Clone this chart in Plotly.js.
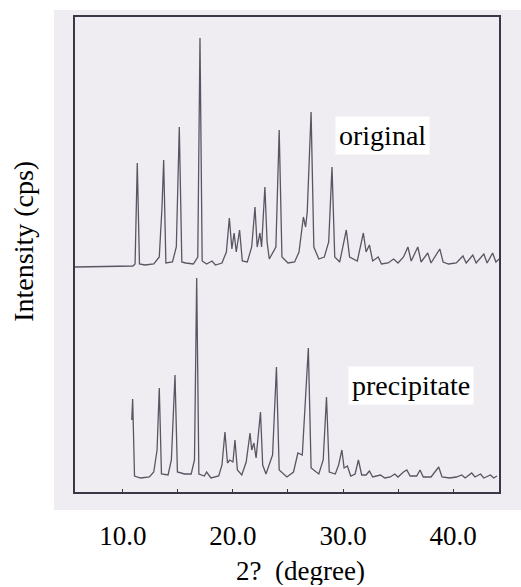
<!DOCTYPE html>
<html>
<head>
<meta charset="utf-8">
<script src="https://cdn.plot.ly/plotly-3.0.1.min.js"></script>
<style>html,body{margin:0;padding:0;background:#fff;}#chart{width:521px;height:587px;}</style>
</head>
<body>
<div id="chart"></div>
<script>
// 2-theta (degree) and intensity (arbitrary, relative)
const origX = [5.6, 10.9, 11.1, 11.3, 11.5, 12.0, 12.8, 13.3, 13.55, 13.7,
  13.9, 14.5, 14.85, 15.12, 15.35, 15.7, 16.4, 16.8, 17.0, 17.2,
  17.6, 18.1, 18.4, 19.0, 19.4, 19.67, 19.9, 20.1, 20.3, 20.6,
  20.85, 21.3, 21.7, 22.0, 22.2, 22.45, 22.6, 22.9, 23.1, 23.3,
  23.9, 24.2, 24.45, 25.0, 25.6, 26.0, 26.4, 26.6, 26.75, 27.1,
  27.35, 27.8, 28.3, 28.7, 29.0, 29.25, 29.7, 30.3, 30.6, 31.3,
  31.85, 32.1, 32.4, 32.7, 33.2, 33.5, 34.1, 34.6, 35.0, 35.5,
  35.9, 36.2, 36.8, 37.1, 37.7, 38.0, 38.8, 39.1, 39.6, 40.3,
  40.9, 41.2, 41.8, 42.1, 42.8, 43.1, 43.6, 43.9, 44.2];
const origI = [0, 1, 3, 104, 3, 2, 3, 10, 60, 107,
  4, 5, 20, 140, 5, 4, 3, 10, 229, 6,
  3, 6, 2, 4, 15, 49, 18, 34, 15, 37,
  6, 5, 20, 60, 20, 34, 20, 80, 25, 8,
  20, 137, 10, 4, 5, 15, 50, 40, 55, 155,
  20, 8, 10, 25, 100, 10, 5, 37, 10, 6,
  34, 15, 22, 6, 10, 3, 4, 8, 4, 10,
  20, 6, 20, 5, 14, 4, 18, 5, 3, 4,
  11, 4, 12, 4, 13, 4, 14, 5, 8];

const precX = [10.8, 10.88, 11.05, 11.6, 12.4, 12.8, 13.1, 13.3, 13.5, 14.1,
  14.4, 14.73, 14.95, 15.6, 16.2, 16.5, 16.7, 16.9, 17.4, 17.6,
  18.0, 18.7, 19.0, 19.27, 19.5, 19.7, 20.0, 20.18, 20.4, 20.8,
  21.2, 21.55, 21.7, 21.9, 22.1, 22.5, 22.7, 23.0, 23.6, 23.95,
  24.2, 24.9, 25.5, 25.9, 26.3, 26.5, 26.85, 27.1, 27.8, 28.2,
  28.5, 28.75, 29.3, 29.6, 29.9, 30.1, 30.4, 30.7, 31.1, 31.4,
  31.7, 32.1, 32.4, 32.7, 33.4, 33.8, 34.3, 34.7, 35.0, 35.5,
  35.8, 36.1, 36.7, 37.0, 37.3, 38.0, 38.7, 39.0, 39.7, 40.3,
  40.8, 41.1, 41.7, 42.0, 42.5, 42.8, 43.4, 43.7, 44.0];
const precI = [60, 81, 4, 2, 3, 8, 30, 92, 6, 5,
  20, 105, 8, 6, 6, 20, 202, 6, 4, 8,
  2, 4, 15, 48, 17, 20, 18, 40, 10, 5,
  18, 47, 30, 37, 22, 68, 15, 6, 25, 113,
  10, 3, 8, 27, 25, 60, 132, 12, 6, 20,
  83, 8, 6, 15, 30, 12, 14, 4, 6, 20,
  5, 5, 9, 3, 5, 2, 3, 6, 3, 8,
  10, 4, 4, 10, 3, 3, 13, 3, 2, 3,
  5, 2, 7, 3, 6, 2, 5, 2, 4];

const tickVals = [10, 20, 30, 40];
const tickText = ['10.0', '20.0', '30.0', '40.0'];
const seriesNames = ['original', 'precipitate'];
// vertical stacking offsets of the two patterns
const offsets = [225, 12];

const lineColor = '#5b5563';
const frameColor = '#3d3646';
const serif = 'Liberation Serif, Times New Roman, serif';

const traces = [
  {x: origX, y: origI.map(v => v + offsets[0]), name: seriesNames[0]},
  {x: precX, y: precI.map(v => v + offsets[1]), name: seriesNames[1]}
].map(t => Object.assign(t, {type: 'scatter', mode: 'lines', line: {color: lineColor, width: 1.3}, hoverinfo: 'skip'}));

const layout = {
  width: 521, height: 587,
  margin: {l: 75, r: 22, t: 17, b: 95, pad: 0},
  paper_bgcolor: '#ffffff',
  plot_bgcolor: 'rgba(0,0,0,0)',
  showlegend: false,
  font: {family: serif, color: '#000'},
  xaxis: {
    range: [5.64, 44.18], showgrid: false, zeroline: false,
    showline: true, mirror: true, linecolor: frameColor, linewidth: 1.6,
    tickvals: tickVals, ticktext: tickText, ticks: 'inside', ticklen: 3, tickcolor: frameColor,
    minor: {dtick: 5, tick0: 0, ticks: 'inside', ticklen: 3, tickcolor: frameColor},
    ticklabelstandoff: 19,
    tickfont: {family: serif, size: 27, color: '#000'}
  },
  yaxis: {
    range: [0, 475], showgrid: false, zeroline: false, showticklabels: false, ticks: '',
    showline: true, mirror: true, linecolor: frameColor, linewidth: 1.6
  },
  shapes: [{
    type: 'rect', xref: 'paper', yref: 'paper', layer: 'below',
    x0: -0.0495, x1: 1.06, y0: -0.038, y1: 1.015,
    fillcolor: '#efedf2', line: {width: 0}
  }],
  annotations: [
    {xref: 'x', yref: 'y', x: 33.6, y: 356.5, text: seriesNames[0], showarrow: false,
     xanchor: 'center', yanchor: 'middle',
     font: {family: serif, size: 28, color: '#000'}, bgcolor: '#ffffff', borderpad: 3},
    {xref: 'x', yref: 'y', x: 36.2, y: 106.5, text: seriesNames[1], showarrow: false,
     xanchor: 'center', yanchor: 'middle',
     font: {family: serif, size: 28, color: '#000'}, bgcolor: '#ffffff', borderpad: 3},
    {xref: 'paper', yref: 'paper', x: -0.120, y: 0.527, text: 'Intensity (cps)', textangle: -90,
     xanchor: 'center', yanchor: 'middle',
     showarrow: false, font: {family: serif, size: 28, color: '#000'}},
    {xref: 'paper', yref: 'paper', x: 0.531, y: -0.166, text: '2?&nbsp;&nbsp;(degree)',
     xanchor: 'center', yanchor: 'middle', height: 28, valign: 'middle', borderpad: 0,
     showarrow: false, font: {family: serif, size: 27, color: '#000'}}
  ]
};

Plotly.newPlot('chart', traces, layout, {staticPlot: true, displayModeBar: false});
</script>
</body>
</html>
